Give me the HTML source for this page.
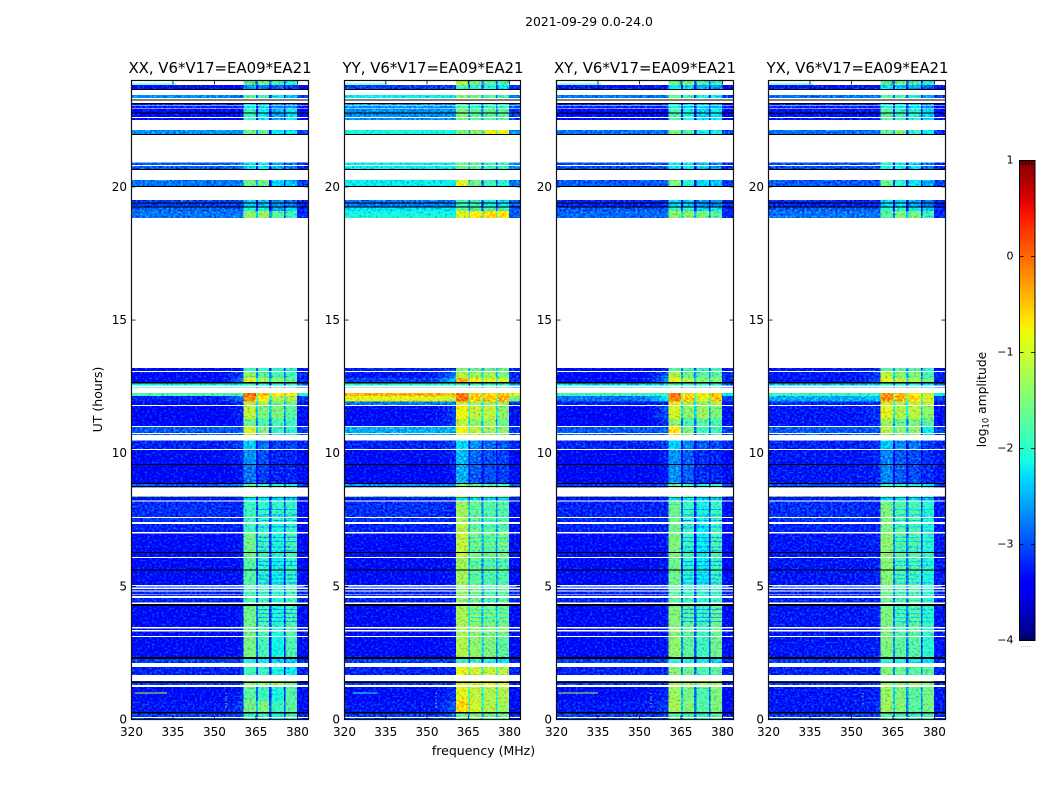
<!DOCTYPE html>
<html lang="en">
<head>
<meta charset="utf-8">
<title>2021-09-29 amplitude waterfall</title>
<style>
html,body{margin:0;padding:0;background:#fff;}
svg{display:block;}
text{font-family:"DejaVu Sans","Liberation Sans",sans-serif;fill:#000;}
</style>
</head>
<body>
<svg id="chart" xmlns="http://www.w3.org/2000/svg" width="1050" height="800" viewBox="0 0 1050 800">
<defs id="defs"></defs>
<text x="589" y="26" font-size="12.4" text-anchor="middle">2021-09-29 0.0-24.0</text>
<text x="483.5" y="755" font-size="12.5" text-anchor="middle">frequency (MHz)</text>
<text x="102" y="399.5" font-size="12.5" text-anchor="middle" transform="rotate(-90 102 399.5)">UT (hours)</text>
<text x="986" y="399.5" font-size="12.3" text-anchor="middle" transform="rotate(-90 986 399.5)">log<tspan font-size="8.4" dy="2.5">10</tspan><tspan dy="-2.5"> amplitude</tspan></text>
<g id="panels"></g>
<g id="colorbar"></g>
</svg>
<script>
const panelTitles = ["XX, V6*V17=EA09*EA21","YY, V6*V17=EA09*EA21","XY, V6*V17=EA09*EA21","YX, V6*V17=EA09*EA21"];
const xTicks = [320,335,350,365,380];
const yTicks = [0,5,10,15,20];
const colorbarTicks = [1,0,-1,-2,-3,-4];
const bgEdges = [320,350,360.5];
const bandStart = [360.5,365.7,370.6,375.7];
const bandEnd = [365,369.8,375.1,379.9];
const freqMax = 384;
const timeEdges = [24,23.83,23.45,23.25,22.92,22.14,20.91,20.26,19.51,19.22,19.09,13.2,13.05,12.82,12.62,12.27,12.15,11.95,11.77,11.3,10.98,10.47,10.12,9.56,8.84,8.31,8.19,7.35,6.98,6.1,5.0,4.27,3.1,2.27,1.97,1.45,1.22,0.7,0.23,0];
// log10 amplitude per time row: [bg-left, bg-taper, band1, band2, band3, band4, bg-right]
const ampXX = [
[null,null,-1.7,-1.6,-1.8,-2.0,null],[-3.1,-3.1,-2.6,-2.7,-2.8,-2.9,-3.1],[-2.6,-2.7,-1.7,-1.9,-2.2,-2.4,-2.9],[-3.0,-3.0,-2.2,-2.4,-2.6,-2.6,-3.1],[-3.1,-3.1,-1.9,-2.2,-2.5,-2.2,-3.1],
[-2.6,-2.6,-1.6,-1.7,-2.2,-2.2,-2.9],[-2.8,-2.7,-2.3,-2.2,-2.5,-2.7,-3.0],[-2.7,-2.7,-1.6,-1.6,-2.3,-2.4,-2.9],[-2.9,-2.9,-2.4,-2.4,-2.6,-2.7,-3.0],[-2.75,-2.75,-2.1,-2.1,-2.5,-2.3,-3.0],
[-2.7,-2.7,-1.4,-1.3,-1.7,-1.9,-3.0],[-3.1,-3.0,-1.9,-1.9,-2.0,-2.0,-3.1],[-3.1,-2.9,-1.4,-1.7,-1.8,-1.9,-3.0],[-3.1,-2.7,-0.9,-1.2,-1.4,-1.6,-3.0],[-2.2,-2.2,-1.9,-2.0,-2.0,-2.0,-2.8],
[-1.8,-1.8,0.0,-0.5,-0.7,-0.7,-2.0],[-3.0,-2.7,-0.2,-0.7,-1.2,-1.2,-2.9],[-3.1,-3.0,-1.2,-1.3,-1.6,-1.6,-3.1],[-3.15,-3.0,-1.1,-1.5,-1.5,-1.7,-3.1],[-3.15,-3.0,-1.6,-1.8,-1.8,-1.9,-3.1],
[-2.8,-2.8,-1.0,-1.5,-1.9,-2.0,-2.9],[-3.0,-2.9,-2.4,-2.7,-2.9,-2.9,-3.0],[-3.1,-3.0,-2.6,-2.85,-3.0,-3.0,-3.1],[-3.15,-3.05,-2.7,-2.9,-3.0,-3.0,-3.1],[-2.8,-2.7,-1.7,-1.9,-2.0,-2.1,-2.9],
[-3.1,-3.05,-2.3,-2.3,-2.4,-2.4,-3.1],[-2.95,-3.0,-1.9,-1.95,-1.95,-1.95,-3.1],[-3.0,-3.0,-1.9,-1.95,-2.05,-1.95,-3.1],[-3.1,-3.05,-1.6,-1.85,-2.05,-1.85,-3.1],[-3.1,-3.05,-1.75,-2.0,-2.15,-1.95,-3.1],
[-3.0,-3.0,-1.85,-1.9,-2.0,-1.85,-3.0],[-3.1,-3.05,-1.6,-1.8,-2.05,-1.8,-3.1],[-3.1,-3.05,-1.55,-1.85,-2.15,-1.8,-3.1],[-2.9,-2.9,-2.1,-2.2,-2.3,-2.4,-3.0],[-3.0,-3.0,-1.9,-1.9,-2.1,-2.2,-3.0],
[-2.9,-2.9,-1.3,-1.2,-1.2,-1.5,-3.0],[-3.1,-3.0,-1.7,-1.9,-2.1,-1.75,-3.1],[-3.05,-2.9,-1.55,-1.5,-1.9,-1.7,-3.1],[-2.9,-2.9,-1.9,-1.9,-2.1,-1.9,-3.0]];
const ampYY = [
[null,null,-1.1,-1.5,-1.7,-1.8,null],[-2.9,-2.9,-1.9,-2.0,-2.1,-2.2,-3.0],[-2.2,-2.2,-1.4,-1.5,-1.7,-1.8,-2.7],[-2.6,-2.6,-1.8,-2.0,-1.9,-1.9,-2.8],[-2.6,-2.6,-1.5,-1.7,-1.7,-1.7,-2.9],
[-2.1,-2.1,-1.5,-1.4,-0.9,-0.8,-2.6],[-2.2,-2.2,-1.6,-1.7,-1.9,-1.9,-2.6],[-2.2,-2.2,-0.9,-1.6,-1.9,-2.0,-2.7],[-2.7,-2.7,-1.9,-1.9,-2.1,-2.2,-2.8],[-2.25,-2.25,-1.6,-1.8,-1.8,-1.8,-2.8],
[-2.1,-2.1,-0.9,-0.7,-0.6,-0.7,-2.8],[-3.0,-2.9,-1.5,-1.6,-1.6,-1.6,-3.0],[-3.05,-2.7,-1.2,-1.3,-1.3,-1.5,-3.0],[-2.9,-2.4,-0.4,-0.7,-0.9,-1.0,-2.9],[-2.0,-2.0,-1.8,-1.9,-1.9,-1.9,-2.6],
[-0.4,-0.5,-0.15,-0.6,-0.6,-0.5,-0.9],[-0.9,-1.1,-0.05,-0.5,-0.5,-0.4,-1.5],[-2.7,-2.7,-1.0,-1.3,-1.3,-1.3,-3.0],[-3.1,-2.9,-0.8,-1.1,-1.1,-1.4,-3.1],[-3.1,-2.9,-1.1,-1.4,-1.3,-1.6,-3.1],
[-2.5,-2.5,-0.8,-1.1,-1.3,-1.4,-2.9],[-3.0,-2.9,-2.3,-2.6,-2.75,-2.8,-3.0],[-3.1,-3.0,-2.45,-2.75,-2.85,-2.9,-3.1],[-3.15,-3.05,-2.5,-2.8,-2.85,-2.9,-3.1],[-2.6,-2.6,-1.4,-1.6,-1.7,-1.8,-2.8],
[-3.1,-3.0,-2.3,-2.3,-2.4,-2.4,-3.1],[-2.95,-3.0,-1.3,-1.6,-1.7,-1.7,-3.1],[-3.0,-3.0,-1.2,-1.6,-1.7,-1.7,-3.1],[-3.1,-3.05,-1.1,-1.5,-1.6,-1.5,-3.1],[-3.1,-3.05,-1.3,-1.6,-1.7,-1.7,-3.1],
[-3.0,-3.0,-1.4,-1.6,-1.8,-1.7,-3.0],[-3.1,-3.05,-1.25,-1.4,-1.5,-1.5,-3.1],[-3.1,-3.05,-1.2,-1.4,-1.5,-1.7,-3.1],[-2.9,-2.9,-1.9,-1.9,-2.1,-2.2,-3.0],[-3.0,-3.0,-0.85,-1.0,-1.1,-1.15,-3.0],
[-2.9,-2.9,-0.9,-0.9,-0.8,-0.9,-3.0],[-3.1,-2.95,-0.9,-1.1,-1.2,-1.2,-3.1],[-3.05,-2.8,-0.6,-1.0,-1.2,-1.3,-3.1],[-2.9,-2.8,-1.6,-1.5,-1.6,-1.6,-3.0]];
const ampXY = [
[null,null,-1.6,-1.5,-1.8,-1.9,null],[-3.05,-3.05,-2.2,-2.3,-2.5,-2.6,-3.1],[-2.7,-2.7,-1.6,-1.8,-2.1,-2.2,-2.9],[-3.0,-3.0,-2.1,-2.3,-2.4,-2.5,-3.1],[-3.1,-3.1,-1.8,-2.1,-2.3,-2.2,-3.1],
[-2.7,-2.7,-1.5,-1.7,-2.1,-2.1,-2.9],[-2.85,-2.8,-2.2,-2.2,-2.4,-2.6,-3.0],[-2.8,-2.8,-1.5,-2.0,-2.3,-2.4,-2.9],[-3.0,-3.0,-2.3,-2.4,-2.6,-2.6,-3.0],[-2.8,-2.8,-1.9,-2.0,-2.3,-2.2,-3.0],
[-2.75,-2.75,-1.4,-1.4,-1.5,-1.7,-3.0],[-3.1,-3.0,-1.7,-1.8,-1.9,-1.9,-3.1],[-3.1,-2.8,-1.2,-1.6,-1.7,-1.7,-3.0],[-3.1,-2.6,-0.8,-1.1,-1.4,-1.4,-3.0],[-2.3,-2.3,-1.8,-1.9,-1.9,-2.0,-2.8],
[-1.9,-1.9,-0.1,-0.6,-0.8,-0.5,-2.2],[-2.7,-2.2,-0.15,-0.5,-0.9,-0.5,-2.9],[-3.05,-3.0,-0.9,-1.2,-1.4,-1.2,-3.1],[-3.15,-2.8,-1.0,-1.4,-1.3,-1.5,-3.1],[-3.15,-2.9,-1.4,-1.8,-1.7,-1.8,-3.1],
[-2.8,-2.8,-0.7,-1.5,-1.9,-1.9,-2.9],[-3.0,-2.9,-2.35,-2.65,-2.8,-2.85,-3.0],[-3.15,-3.0,-2.6,-2.8,-2.95,-3.0,-3.1],[-3.15,-3.05,-2.6,-2.8,-2.95,-3.0,-3.1],[-2.9,-2.8,-1.6,-1.9,-2.1,-1.9,-2.9],
[-3.1,-3.05,-2.3,-2.3,-2.4,-2.4,-3.1],[-3.0,-3.0,-1.6,-1.9,-2.1,-1.9,-3.1],[-3.0,-3.0,-1.6,-1.9,-2.2,-1.9,-3.1],[-3.1,-3.05,-1.5,-1.9,-2.2,-1.8,-3.1],[-3.1,-3.05,-1.6,-2.0,-2.2,-1.9,-3.1],
[-3.0,-3.0,-1.7,-1.9,-2.0,-1.9,-3.0],[-3.1,-3.05,-1.45,-1.7,-1.9,-1.6,-3.1],[-3.1,-3.05,-1.4,-1.7,-1.9,-1.6,-3.1],[-2.9,-2.9,-2.0,-2.1,-2.2,-2.3,-3.0],[-3.0,-3.0,-1.45,-1.6,-1.8,-1.7,-3.0],
[-2.9,-2.9,-1.2,-1.2,-1.1,-1.3,-3.0],[-3.1,-3.0,-1.3,-1.55,-1.8,-1.5,-3.1],[-3.05,-2.9,-1.25,-1.45,-1.75,-1.5,-3.1],[-2.9,-2.9,-1.7,-1.8,-1.9,-1.7,-3.0]];
const ampYX = [
[null,null,-1.7,-1.6,-1.8,-2.0,null],[-3.05,-3.05,-2.3,-2.4,-2.5,-2.8,-3.1],[-2.7,-2.7,-1.7,-1.8,-2.0,-2.5,-2.9],[-3.0,-3.0,-2.1,-2.2,-2.3,-2.6,-3.1],[-3.05,-3.05,-1.7,-1.9,-2.0,-2.3,-3.1],
[-2.7,-2.7,-1.6,-1.4,-1.9,-2.2,-2.9],[-2.85,-2.8,-2.1,-2.2,-2.3,-2.7,-3.0],[-2.8,-2.8,-1.6,-2.0,-2.2,-2.5,-2.9],[-3.0,-3.0,-2.3,-2.3,-2.5,-2.7,-3.0],[-2.8,-2.8,-2.0,-2.0,-2.2,-2.4,-3.0],
[-2.7,-2.7,-1.7,-1.5,-1.5,-1.9,-3.0],[-3.05,-3.0,-1.7,-1.7,-1.7,-2.0,-3.1],[-3.05,-2.9,-1.1,-1.4,-1.5,-1.8,-3.0],[-3.05,-2.8,-0.9,-1.1,-1.2,-1.6,-3.0],[-2.4,-2.4,-1.9,-2.0,-2.0,-2.2,-2.8],
[-1.9,-1.9,-0.2,-0.4,-0.7,-1.0,-2.2],[-2.5,-2.4,-0.2,-0.4,-0.6,-1.0,-2.9],[-3.0,-3.0,-1.0,-1.2,-1.1,-1.1,-3.1],[-3.05,-2.95,-0.9,-1.2,-1.1,-1.4,-3.1],[-3.05,-2.95,-1.3,-1.6,-1.5,-1.7,-3.1],
[-2.8,-2.8,-1.2,-1.4,-1.4,-2.2,-2.9],[-3.0,-2.95,-2.4,-2.6,-2.7,-2.9,-3.0],[-3.05,-3.0,-2.65,-2.8,-2.85,-2.95,-3.05],[-3.05,-3.0,-2.65,-2.8,-2.85,-2.95,-3.05],[-2.8,-2.8,-1.8,-1.9,-2.0,-2.3,-2.9],
[-3.05,-3.0,-2.3,-2.3,-2.4,-2.5,-3.05],[-2.95,-3.0,-1.5,-1.75,-1.8,-2.0,-3.05],[-3.0,-3.0,-1.5,-1.75,-1.8,-2.0,-3.05],[-3.05,-3.0,-1.4,-1.7,-1.75,-1.95,-3.05],[-3.05,-3.0,-1.45,-1.75,-1.8,-2.0,-3.05],
[-3.0,-3.0,-1.6,-1.8,-1.8,-2.0,-3.0],[-3.05,-3.0,-1.5,-1.75,-1.7,-1.95,-3.05],[-3.05,-3.0,-1.5,-1.7,-1.75,-2.0,-3.05],[-2.9,-2.9,-2.0,-2.1,-2.2,-2.3,-3.0],[-3.0,-3.0,-1.5,-1.6,-1.7,-1.7,-3.0],
[-2.9,-2.9,-1.3,-1.3,-1.2,-1.4,-3.0],[-3.05,-3.0,-1.35,-1.5,-1.7,-1.55,-3.05],[-3.05,-2.95,-1.3,-1.45,-1.7,-1.55,-3.05],[-2.9,-2.9,-1.7,-1.8,-1.9,-1.8,-3.0]];
const panelAmps = [ampXX,ampYY,ampXY,ampYX];
const noDataStart = [23.64,23.33,23.25,23.07,22.95,22.62,22.51,21.94,20.82,20.64,20.0,18.84,13.09,12.54,12.46,11.81,11.02,10.75,10.69,10.16,8.72,8.23,7.6,7.42,7.05,6.1,5.05,4.95,4.85,4.72,4.63,4.39,3.47,3.36,3.14,2.13,1.68,1.3,0.09];
const noDataEnd = [23.45,23.29,23.16,23.05,22.92,22.58,22.14,20.91,20.78,20.26,19.51,13.2,13.05,12.49,12.27,11.77,10.98,10.72,10.47,10.12,8.37,8.19,7.57,7.35,6.98,6.06,5.0,4.9,4.8,4.69,4.56,4.33,3.42,3.3,3.1,1.97,1.45,1.22,0.06];
const zeroStart = [23.68,23.29,23.16,22.8,21.99,20.68,20.04,19.42,19.26,12.67,9.6,8.88,8.77,8.34,6.29,5.63,4.33,2.34,1.42,0.28];
const zeroEnd = [23.64,23.25,23.11,22.75,21.94,20.64,20.0,19.38,19.22,12.62,9.56,8.84,8.73,8.31,6.25,5.59,4.27,2.27,1.38,0.23];
const stripeHours = [7.9,7.7,7.5,7.25,6.85,6.7,6.5,6.35,5.95,5.8,5.45,5.3,5.15,4.15,4.0,3.85,3.7];
const stripeLevels = [-2.5,-2.1,-2.5,-2.3];
const linePanel = [0,1,2,0,1,2,3];
const lineHour = [1.02,1.02,1.02,23.88,23.88,23.88,23.88];
const lineFrom = [321.3,323,320.5,320,320,320,320];
const lineTo = [332.8,332,335,336,336,336,336];
const lineLevel = [-1.1,-2.1,-1.2,-2.1,-2.1,-2.1,-2.1];
const specPanel = [0,0,0,0,0,1,1,1,1,1,2,2,2,2,2,3,3,3,3,2,3,0];
const specHour = [1.0,.87,.75,.62,.5,1.0,.87,.75,.62,.5,1.0,.87,.75,.62,.5,1.0,.87,.75,.62,19.2,19.2,19.5];
const specFreq = [354,354,354,354,354,353,353,353,353,353,354,354,354,354,354,354,354,354,354,342,342,338];
const specLevel = [-.9,-.9,-.9,-.9,-.9,-1.3,-1.3,-1.3,-1.3,-1.3,-.9,-.9,-.9,-.9,-.9,-1.5,-1.5,-1.5,-1.5,-.4,-.4,-1.1];

const NS = "http://www.w3.org/2000/svg";
const panelLeft = [131.5,344.5,556.5,768.5];
const panelWidths = [177,176,177,177];
const titleCenter = [220,433,645,857.5];
const xScale = (p,f) => panelLeft[p] + (f-320) * panelWidths[p] / (freqMax-320);
const yScale = h => 719.5 - h*26.63;
const cbarY = v => 640.5 - (v+4)*96;
// Colour calibration: compensates the lift from the speckle texture on faint cells.
const tone = v => v < -2.4 ? v - (-2.4 - v)*0.35 : v;

function lerpStops(t, stops){
  for(let i=1;i<stops.length;i++){
    if(t<=stops[i][0]){
      const a=stops[i-1], b=stops[i];
      return a[1]+(b[1]-a[1])*(t-a[0])/(b[0]-a[0]);
    }
  }
  return stops[stops.length-1][1];
}
function jet(v){
  const t=Math.max(0,Math.min(1,(v+4)/5));
  const r=lerpStops(t,[[0,0],[.35,0],[.66,1],[.89,1],[1,.5]]);
  const g=lerpStops(t,[[0,0],[.125,0],[.375,1],[.64,1],[.91,0],[1,0]]);
  const b=lerpStops(t,[[0,.5],[.11,1],[.34,1],[.65,0],[1,0]]);
  return "rgb("+Math.round(r*255)+","+Math.round(g*255)+","+Math.round(b*255)+")";
}
function make(tag, parent, attrs){
  const el=document.createElementNS(NS,tag);
  for(const k in attrs) el.setAttribute(k,attrs[k]);
  parent.appendChild(el);
  return el;
}
const defs=document.getElementById("defs");
const panelsRoot=document.getElementById("panels");

panelTitles.forEach((title,p)=>{
  const panelWidth=panelWidths[p];
  const L=panelLeft[p], R=L+panelWidth, T=80.5, B=719.5;
  const clip=make("clipPath",defs,{id:"clip"+p});
  make("rect",clip,{x:L,y:T,width:panelWidth,height:B-T});
  const filter=make("filter",defs,{id:"noise"+p,filterUnits:"userSpaceOnUse",x:L,y:T,width:panelWidth,height:B-T,"color-interpolation-filters":"sRGB"});
  make("feTurbulence",filter,{type:"fractalNoise",baseFrequency:"0.42 0.5",numOctaves:"1",seed:String(3+p*7),result:"t"});
  make("feColorMatrix",filter,{in:"t",type:"matrix",values:"0 0 0 0 .5  2 0 0 0 -.5  0 1.3 0 0 -.15  0 0 0 0 1",result:"n"});
  make("feComposite",filter,{in:"SourceGraphic",in2:"n",operator:"arithmetic",k1:"0",k2:"1",k3:"0.6",k4:"-0.3"});

  const g=make("g",panelsRoot,{});
  
  
  const clipped=make("g",g,{"clip-path":"url(#clip"+p+")","shape-rendering":"crispEdges"});
  const heat=make("g",clipped,{filter:"url(#noise"+p+")","shape-rendering":"crispEdges"});
  
  
  const flags=make("g",clipped,{"shape-rendering":"crispEdges"});
  
  

  const cell=(layer,f0,f1,h0,h1,fill)=>{
    const el=make("rect",layer,{x:xScale(p,f0).toFixed(2),y:yScale(h0).toFixed(2),width:(xScale(p,f1)-xScale(p,f0)).toFixed(2),height:(yScale(h1)-yScale(h0)).toFixed(2),fill:fill});
    
    
    return el;
  };
  const put=(f0,f1,h0,h1,v)=>{
    if(v===null) cell(flags,f0,f1,h0,h1,"#fff");
    else cell(heat,f0,f1,h0,h1,jet(tone(v)));
  };
  panelAmps[p].forEach((row,r)=>{
    const h0=timeEdges[r], h1=r+1<timeEdges.length?timeEdges[r+1]:0;
    put(bgEdges[0],bgEdges[1],h0,h1,row[0]);
    // taper: blends from the left background level into the pre-band level
    const steps=7, span=bgEdges[2]-bgEdges[1];
    for(let s=0;s<steps;s++){
      const a=bgEdges[1]+span*s/steps, b=bgEdges[1]+span*(s+1)/steps;
      const mix=(s+1)/steps;
      const level=(row[0]===null||row[1]===null)?null:row[0]+(row[1]-row[0])*mix*mix;
      put(a,b,h0,h1,level);
    }
    for(let b=0;b<4;b++){
      put(bandStart[b],bandEnd[b],h0,h1,row[2+b]);
      const next=b<3?bandStart[b+1]:null;
      if(next!==null) put(bandEnd[b],next,h0,h1,Math.max(Math.min(row[2+b],row[3+b])-0.9,-3.15));
    }
    put(bandEnd[3],freqMax,h0,h1,row[6]);
  });
  stripeHours.forEach(h=>{
    for(let b=1;b<4;b++) put(bandStart[b],bandEnd[b],h,h-0.04,stripeLevels[p]);
  });
  noDataStart.forEach((h,i)=>{
    const el=cell(flags,320,freqMax,h,noDataEnd[i],"#fff");
    
  });
  zeroStart.forEach((h,i)=>{
    const el=cell(flags,320,freqMax,h,zeroEnd[i],"#000");
    
  });
  linePanel.forEach((lp,i)=>{
    if(lp!==p) return;
    const el=cell(clipped,lineFrom[i],lineTo[i],lineHour[i],lineHour[i]-0.04,jet(lineLevel[i]));
    
  });
  specPanel.forEach((sp,i)=>{
    if(sp!==p) return;
    const el=cell(clipped,specFreq[i],specFreq[i]+0.4,specHour[i],specHour[i]-0.04,jet(specLevel[i]));
    
  });

  const frame=make("rect",g,{x:L,y:T,width:panelWidth,height:B-T,fill:"none",stroke:"#111","stroke-width":"1.2"});
  
  

  const t=make("text",g,{x:titleCenter[p],y:73,"font-size":"14.9","text-anchor":"middle"});
  t.textContent=title;
  
  

  xTicks.forEach(f=>{
    const x=xScale(p,f);
    const t1=make("line",g,{x1:x,x2:x,y1:B,y2:B-4,stroke:"#000","stroke-width":"0.8"});
    
    
    const t2=make("line",g,{x1:x,x2:x,y1:T,y2:T+4,stroke:"#000","stroke-width":"0.8"});
    
    
    const lab=make("text",g,{x:x,y:736,"font-size":"12","text-anchor":"middle"});
    lab.textContent=String(f);
    
    
  });
  yTicks.forEach(h=>{
    const y=yScale(h);
    const t1=make("line",g,{x1:L,x2:L+4,y1:y,y2:y,stroke:"#000","stroke-width":"0.8"});
    
    
    const t2=make("line",g,{x1:R,x2:R-4,y1:y,y2:y,stroke:"#000","stroke-width":"0.8"});
    
    
    const lab=make("text",g,{x:L-4.5,y:y+4,"font-size":"12","text-anchor":"end"});
    lab.textContent=String(h);
    
    
  });
});

// colorbar
const cb=document.getElementById("colorbar");
const grad=make("linearGradient",defs,{id:"jetGrad",x1:"0",y1:"1",x2:"0",y2:"0"});
for(let i=0;i<=40;i++){
  make("stop",grad,{offset:(i/40).toFixed(3),"stop-color":jet(-4+5*i/40)});
}
const cbar=make("rect",cb,{x:1019.5,y:160.5,width:15.5,height:480,fill:"url(#jetGrad)",stroke:"#000","stroke-width":"1"});


colorbarTicks.forEach(v=>{
  const y=cbarY(v);
  const a=make("line",cb,{x1:1019.5,x2:1023.5,y1:y,y2:y,stroke:"#000","stroke-width":"0.8"});
  
  
  const b=make("line",cb,{x1:1035,x2:1031,y1:y,y2:y,stroke:"#000","stroke-width":"0.8"});
  
  
  const lab=make("text",cb,{x:1013.5,y:y+3,"font-size":"11","text-anchor":"end"});
  lab.textContent=(v<0?"\u2212"+Math.abs(v):String(v));
  
  
});
for(let i=1;i<=4;i++){
  const x=1019.5+i*3.1;
  const a=make("line",cb,{x1:x,x2:x,y1:160.5,y2:165,stroke:"#000","stroke-width":"0.8"});
  
  
  const b=make("line",cb,{x1:x,x2:x,y1:640.5,y2:636,stroke:"#000","stroke-width":"0.8"});
  
  
}
const dots=make("text",cb,{x:1026.5,y:647,"font-size":"6","text-anchor":"middle"});
dots.style.fill="#888";
dots.textContent="......";


</script>
</body>
</html>
